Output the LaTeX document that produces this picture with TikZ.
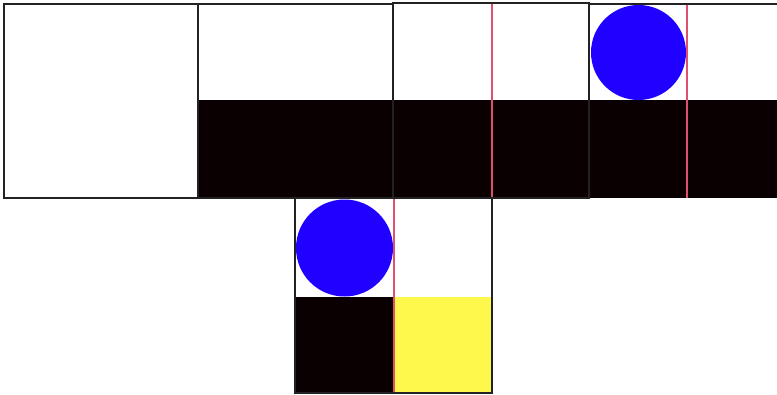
\documentclass[tikz,border=0pt]{standalone}
\definecolor{cellblack}{HTML}{0A0002}
\definecolor{ballblue}{HTML}{2000FF}
\definecolor{redline}{HTML}{E0506E}
\definecolor{goalyellow}{HTML}{FFF84C}
\definecolor{frame}{HTML}{222222}
\tikzset{
  panel/.style={draw=frame, line width=2pt},
  floor/.style={fill=cellblack},
  ball/.style={fill=ballblue},
  divider/.style={draw=redline, line width=2pt},
  goal/.style={fill=goalyellow}
}
\begin{document}
\begin{tikzpicture}[x=1pt,y=-1pt]
\useasboundingbox (0,0) rectangle (777,394);
\fill[white] (0,0) rectangle (777,394);
% panel 1
\draw[panel, fill=white] (4,4) rectangle (198,198);
% panel 2
\fill[floor] (198,100) rectangle (393,198);
\draw[panel] (198,4) rectangle (393,198);
% panel 3
\fill[floor] (393,100) rectangle (589,198);
\draw[divider] (492,3) -- (492,198);
\draw[panel, line width=1.6pt] (393,3) rectangle (589,198);
% panel 4
\fill[floor] (589,100) rectangle (777,198);
\fill[ball] (638.5,52.5) circle (47.5);
\draw[divider] (686.5,4) -- (686.5,198);
\draw[panel] (777,4) -- (589,4) -- (589,198);
% panel 5
\fill[floor] (295,297) rectangle (393.5,393);
\fill[goal] (393.5,297) rectangle (492,393);
\fill[ball] (344.5,248) circle (48.5);
\draw[divider] (393.5,198) -- (393.5,393);
\draw[panel] (295,198) rectangle (492,393);
\end{tikzpicture}
\end{document}
